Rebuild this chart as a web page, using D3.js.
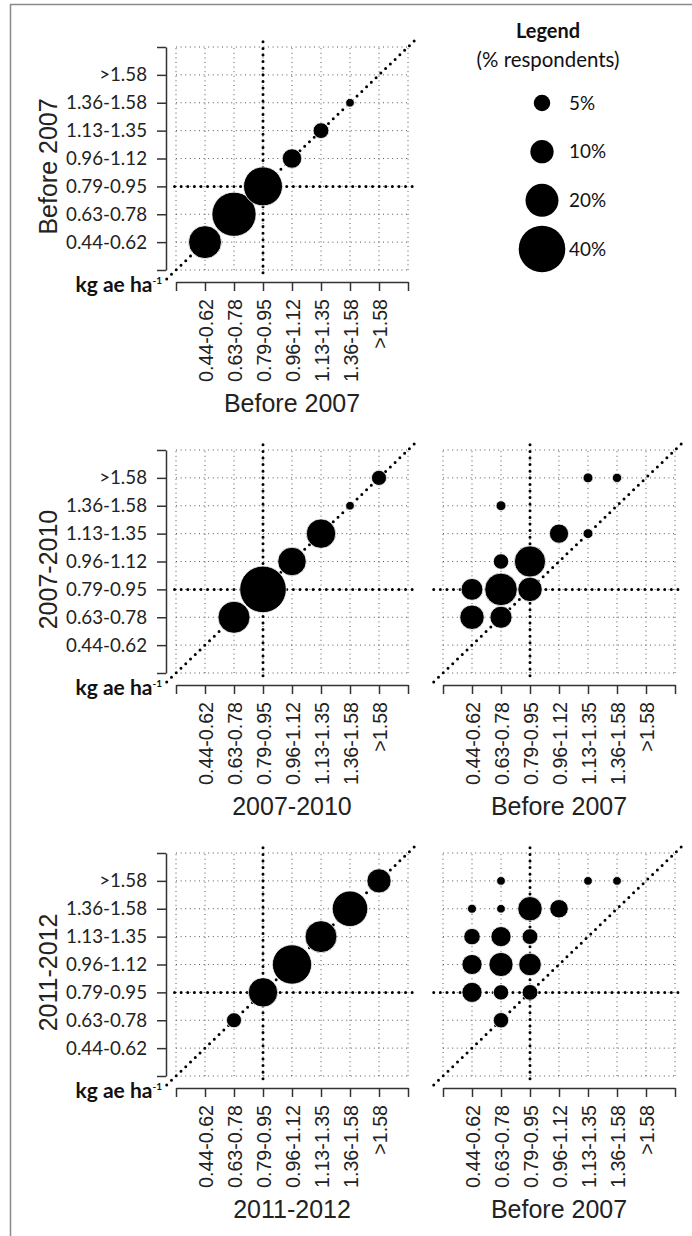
<!DOCTYPE html>
<html>
<head>
<meta charset="utf-8">
<script src="https://cdn.jsdelivr.net/npm/d3@7"></script>
<style>
  body { margin: 0; background: #fff; }
</style>
</head>
<body>
<div id="chart"></div>
<script>
// rate classes (kg ae ha-1), bottom to top / left to right
const categories = ['0.44-0.62', '0.63-0.78', '0.79-0.95', '0.96-1.12', '1.13-1.35', '1.36-1.58', '>1.58'];
const periods = ['Before 2007', '2007-2010', '2011-2012'];
const legendValues = [5, 10, 20, 40];

// [x class, y class, % respondents]
const before2007VsBefore2007 = [
  ['0.44-0.62', '0.44-0.62', 20],
  ['0.63-0.78', '0.63-0.78', 36],
  ['0.79-0.95', '0.79-0.95', 28],
  ['0.96-1.12', '0.96-1.12', 7],
  ['1.13-1.35', '1.13-1.35', 4.6],
  ['1.36-1.58', '1.36-1.58', 1.4],
];

const p2007VsP2007 = [
  ['0.63-0.78', '0.63-0.78', 19],
  ['0.79-0.95', '0.79-0.95', 40],
  ['0.96-1.12', '0.96-1.12', 15],
  ['1.13-1.35', '1.13-1.35', 16],
  ['1.36-1.58', '1.36-1.58', 1.4],
  ['>1.58', '>1.58', 4.2],
];

const p2007VsBefore2007 = [
  ['1.13-1.35', '>1.58', 1.8],
  ['1.36-1.58', '>1.58', 1.6],
  ['0.63-0.78', '1.36-1.58', 1.8],
  ['0.96-1.12', '1.13-1.35', 6.8],
  ['1.13-1.35', '1.13-1.35', 1.8],
  ['0.63-0.78', '0.96-1.12', 4.4],
  ['0.79-0.95', '0.96-1.12', 18],
  ['0.44-0.62', '0.79-0.95', 8.8],
  ['0.63-0.78', '0.79-0.95', 19.6],
  ['0.79-0.95', '0.79-0.95', 11],
  ['0.44-0.62', '0.63-0.78', 11],
  ['0.63-0.78', '0.63-0.78', 9],
];

const p2011VsP2011 = [
  ['0.63-0.78', '0.63-0.78', 4.2],
  ['0.79-0.95', '0.79-0.95', 16],
  ['0.96-1.12', '0.96-1.12', 28.5],
  ['1.13-1.35', '1.13-1.35', 18.8],
  ['1.36-1.58', '1.36-1.58', 23.4],
  ['>1.58', '>1.58', 10.8],
];

const p2011VsBefore2007 = [
  ['0.63-0.78', '>1.58', 1.4],
  ['1.13-1.35', '>1.58', 1.4],
  ['1.36-1.58', '>1.58', 1.4],
  ['0.44-0.62', '1.36-1.58', 1.5],
  ['0.63-0.78', '1.36-1.58', 1.4],
  ['0.79-0.95', '1.36-1.58', 11],
  ['0.96-1.12', '1.36-1.58', 6.3],
  ['0.44-0.62', '1.13-1.35', 5],
  ['0.63-0.78', '1.13-1.35', 7.5],
  ['0.79-0.95', '1.13-1.35', 4.6],
  ['0.44-0.62', '0.96-1.12', 7.5],
  ['0.63-0.78', '0.96-1.12', 10.8],
  ['0.79-0.95', '0.96-1.12', 9.4],
  ['0.44-0.62', '0.79-0.95', 7.5],
  ['0.63-0.78', '0.79-0.95', 4.4],
  ['0.79-0.95', '0.79-0.95', 4.6],
  ['0.63-0.78', '0.63-0.78', 4.4],
];

const panels = [
  {row: 0, col: 0, xTitle: periods[0], yTitle: periods[0], data: before2007VsBefore2007},
  {row: 1, col: 0, xTitle: periods[1], yTitle: periods[1], data: p2007VsP2007},
  {row: 1, col: 1, xTitle: periods[0], data: p2007VsBefore2007},
  {row: 2, col: 0, xTitle: periods[2], yTitle: periods[2], data: p2011VsP2011},
  {row: 2, col: 1, xTitle: periods[0], data: p2011VsBefore2007},
];

const width = 692;
const height = 1236;
const rowTop = [47, 450, 853];
const colLeft = [176, 443];
const plotW = 232;
const plotH = 223;

const calibriLike = 'Lato, "Open Sans", sans-serif';
const arialLike = '"Liberation Sans", Arial, sans-serif';

const svg = d3.select('#chart')
  .append('svg')
  .attr('width', width)
  .attr('height', height);

// size a font so that a sample string gets the width measured on the original
const measure = (family, weight, size, sample) => {
  const probe = svg.append('text')
    .attr('font-family', family)
    .attr('font-weight', weight)
    .attr('font-size', size)
    .text(sample);
  const w = probe.node().getComputedTextLength();
  probe.remove();
  return w;
};
const fitSize = (family, weight, sample, target) =>
  20 * target / measure(family, weight, 20, sample);

const yTickSize = fitSize(calibriLike, 'normal', '1.36-1.58', 81);
const unitSize = fitSize(calibriLike, 'bold', 'kg ae ha', 77);
const legendTitleSize = fitSize(calibriLike, 'bold', 'Legend', 64);
const legendSubSize = fitSize(calibriLike, 'normal', '(% respondents)', 143);
const legendLabelSize = fitSize(calibriLike, 'normal', '40%', 37);
// rotated labels are a narrow face: keep the height, squeeze the width
const xTickSize = 21;
const xTickSqueeze = 83 / measure(arialLike, 'normal', xTickSize, '0.44-0.62');

// grey frame round the figure (cut off at right and bottom)
svg.append('rect')
  .attr('x', 10.5).attr('y', 4.5)
  .attr('width', 720).attr('height', 1260)
  .attr('fill', 'none')
  .attr('stroke', '#8a8a8a')
  .attr('stroke-width', 1.5);

const rScale = d3.scaleSqrt().domain([0, 40]).range([0, 23.3]);
const catIndex = (c) => categories.indexOf(c) + 1;

const drawPanel = (p) => {
  const x0 = colLeft[p.col];
  const y0 = rowTop[p.row];
  const x = d3.scaleLinear().domain([0, 8]).range([x0, x0 + plotW]);
  const y = d3.scaleLinear().domain([0, 8]).range([y0 + plotH, y0]);
  const g = svg.append('g');
  const ticks = d3.range(0, 9);

  // light dotted grid
  const grid = g.append('g')
    .attr('stroke', '#555')
    .attr('stroke-width', 1)
    .attr('stroke-dasharray', '1 3.6');
  grid.selectAll('.gv').data(ticks).join('line')
    .attr('x1', (d) => x(d)).attr('x2', (d) => x(d))
    .attr('y1', y(0)).attr('y2', y(8));
  grid.selectAll('.gh').data(ticks).join('line')
    .attr('x1', x(0)).attr('x2', x(8))
    .attr('y1', (d) => y(d)).attr('y2', (d) => y(d));

  // heavy dotted lines: 0.79-0.95 class and the 1:1 line
  const heavy = g.append('g')
    .attr('stroke', '#000')
    .attr('stroke-width', 3)
    .attr('stroke-linecap', 'round')
    .attr('stroke-dasharray', '0 6.6');
  const mid = catIndex('0.79-0.95');
  heavy.append('line')
    .attr('x1', x(mid)).attr('x2', x(mid))
    .attr('y1', y(-0.1)).attr('y2', y(8.25));
  heavy.append('line')
    .attr('x1', x(p.col === 0 ? -0.05 : -0.32)).attr('x2', x(8.15))
    .attr('y1', y(mid)).attr('y2', y(mid));
  heavy.append('line')
    .attr('x1', x(-0.32)).attr('y1', y(-0.32))
    .attr('x2', x(8.32)).attr('y2', y(8.32));

  // bubbles
  g.append('g').selectAll('circle').data(p.data).join('circle')
    .attr('cx', (d) => x(catIndex(d[0])))
    .attr('cy', (d) => y(catIndex(d[1])))
    .attr('r', (d) => rScale(d[2]))
    .attr('fill', '#000')
    .attr('stroke', '#fff')
    .attr('stroke-width', 0.8);

  // x axis, set below the plot
  const axisY = y0 + plotH + 12;
  const xAxis = g.append('g')
    .attr('transform', `translate(0,${axisY})`)
    .call(d3.axisBottom(x)
      .tickValues(ticks)
      .tickSize(9)
      .tickSizeOuter(0)
      .tickFormat((i) => categories[i - 1] || ''));
  xAxis.select('.domain').attr('stroke', '#333').attr('stroke-width', 1.5);
  xAxis.selectAll('.tick line').attr('stroke', '#333').attr('stroke-width', 1.5);
  xAxis.selectAll('.tick text')
    .attr('x', 0).attr('y', 0).attr('dy', '0.36em')
    .attr('transform', `translate(0,17) rotate(-90) scale(${xTickSqueeze},1)`)
    .attr('text-anchor', 'end')
    .attr('font-family', arialLike)
    .attr('font-size', xTickSize)
    .attr('fill', '#222');

  g.append('text')
    .attr('x', x(4)).attr('y', axisY + 130)
    .attr('text-anchor', 'middle')
    .attr('font-family', arialLike)
    .attr('font-size', 25)
    .attr('fill', '#222')
    .text(p.xTitle);

  // y axis only on the left column
  if (p.col === 0) {
    const yAxis = g.append('g')
      .attr('transform', `translate(${x0 - 10},0)`)
      .call(d3.axisLeft(y)
        .tickValues(ticks)
        .tickSize(9)
        .tickSizeOuter(0)
        .tickPadding(10)
        .tickFormat((i) => categories[i - 1] || ''));
    yAxis.select('.domain').attr('stroke', '#333').attr('stroke-width', 1.5);
    yAxis.selectAll('.tick line').attr('stroke', '#333').attr('stroke-width', 1.5);
    yAxis.selectAll('.tick text')
      .attr('font-family', calibriLike)
      .attr('font-size', yTickSize)
      .attr('fill', '#222');

    g.append('text')
      .attr('transform', `translate(57,${y(4) + 8}) rotate(-90)`)
      .attr('text-anchor', 'middle')
      .attr('font-family', arialLike)
      .attr('font-size', 25)
      .attr('fill', '#222')
      .text(p.yTitle);

    const unit = g.append('text')
      .attr('x', x0 - 14).attr('y', axisY + 10)
      .attr('text-anchor', 'end')
      .attr('font-family', calibriLike)
      .attr('font-weight', 'bold')
      .attr('font-size', unitSize)
      .attr('fill', '#111');
    unit.append('tspan').text('kg ae ha');
    unit.append('tspan').attr('dy', -8).attr('font-size', 10).text('-1');
  }
};

panels.forEach(drawPanel);

// legend in the empty top-right cell
const legend = svg.append('g');
legend.append('text')
  .attr('x', 548).attr('y', 38)
  .attr('text-anchor', 'middle')
  .attr('font-family', calibriLike)
  .attr('font-weight', 'bold')
  .attr('font-size', legendTitleSize)
  .attr('fill', '#111')
  .text('Legend');
legend.append('text')
  .attr('x', 548).attr('y', 67)
  .attr('text-anchor', 'middle')
  .attr('font-family', calibriLike)
  .attr('font-size', legendSubSize)
  .attr('fill', '#111')
  .text('(% respondents)');

const legendY = d3.scalePoint().domain(legendValues).range([103, 249]);
const items = legend.selectAll('.item').data(legendValues).join('g')
  .attr('transform', (d) => `translate(0,${legendY(d)})`);
items.append('circle')
  .attr('cx', 542)
  .attr('r', (d) => rScale(d))
  .attr('fill', '#000');
items.append('text')
  .attr('x', 569).attr('dy', '0.36em')
  .attr('font-family', calibriLike)
  .attr('font-size', legendLabelSize)
  .attr('fill', '#111')
  .text((d) => d + '%');
</script>
</body>
</html>
